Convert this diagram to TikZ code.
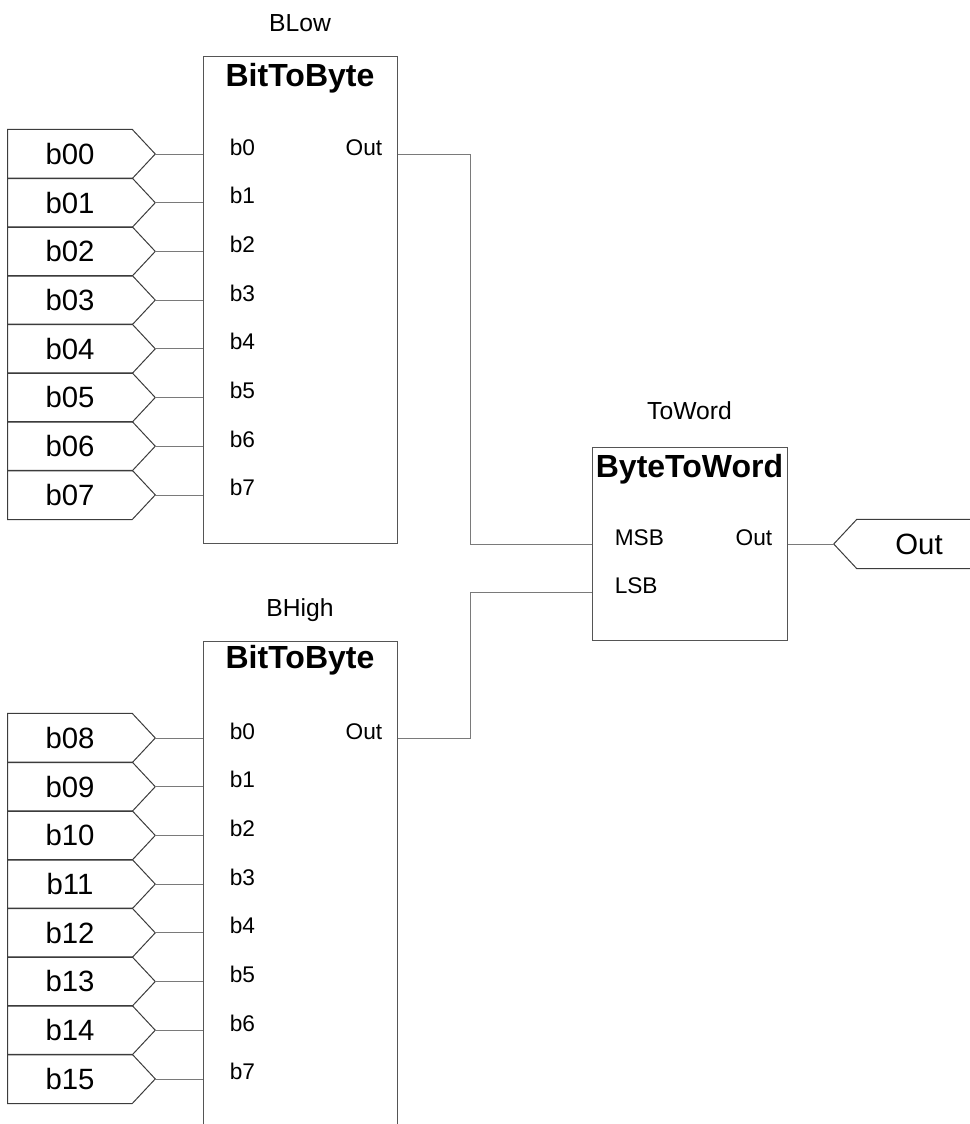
\documentclass[tikz,border=0pt]{standalone}
\usepackage{fontspec}
\setmainfont{Liberation Sans}
\usepackage{tikz}
\usetikzlibrary{positioning,calc}
\definecolor{frame}{HTML}{555555}
\definecolor{wire}{HTML}{7A7A7A}
\definecolor{tagline}{HTML}{3C3C3C}

\begin{document}
\begin{tikzpicture}[x=0.75pt,y=-0.75pt,
 fb/.style={draw=frame,line width=0.75pt,inner sep=0pt},
 bitbox/.style={fb,minimum width=145.5pt,minimum height=364.5pt},
 wordbox/.style={fb,minimum width=146.25pt,minimum height=144.75pt},
 title/.style={anchor=base,font=\bfseries\fontsize{24}{28}\selectfont},
 inst/.style={anchor=base,font=\fontsize{18.5}{22}\selectfont},
 pinl/.style={anchor=base west,inner sep=0pt,font=\fontsize{17}{20}\selectfont},
 pinr/.style={anchor=base east,inner sep=0pt,font=\fontsize{17}{20}\selectfont},
 tag/.style={minimum width=93pt,minimum height=36.5pt,inner sep=0pt,font=\fontsize{22}{26}\selectfont},
 tagedge/.style={draw=tagline,line width=0.75pt,line join=miter},
 wire/.style={draw=wire,line width=0.6pt}]
 \useasboundingbox (0,0) rectangle (970,1124);
 \clip (0,0) rectangle (970,1124);

 % function blocks
 \node[bitbox] (blow) at (300,300) {};
 \node[bitbox] (bhigh) at (300,884) {};
 \node[wordbox] (toword) at (689.5,543.5) {};

 \node[title] at ($(blow.north)+(0,30)$) {BitToByte};
 \node[title] at ($(bhigh.north)+(0,28)$) {BitToByte};
 \node[title] at ($(toword.north)+(0,31)$) {ByteToWord};
 \node[inst] (blowname) at ($(blow.north)+(0,-25)$) {BLow};
 \node[inst] (bhighname) at ($(bhigh.north)+(0,-24)$) {BHigh};
 \node[inst] (towordname) at ($(toword.north)+(0,-27)$) {ToWord};

 % input tags of BLow
 \foreach \tg [count=\i from 0] in {b00,b01,b02,b03,b04,b05,b06,b07} {
  \node[tag] (\tg) at (70,154+48.7*\i) {\tg};
  \draw[tagedge] (\tg.north east) -| (\tg.south west) -- (\tg.south east)
   -- ([xshift=17.25pt]\tg.east) -- cycle;
  \draw[wire] ([xshift=17.25pt]\tg.east) -- (blow.west |- \tg.east);
  \node[pinl] at ($(blow.west |- \tg.east)+(27,1)$) {b\i};
 }

 % input tags of BHigh
 \foreach \tg [count=\i from 0] in {b08,b09,b10,b11,b12,b13,b14,b15} {
  \node[tag] (\tg) at (70,738+48.7*\i) {\tg};
  \draw[tagedge] (\tg.north east) -| (\tg.south west) -- (\tg.south east)
   -- ([xshift=17.25pt]\tg.east) -- cycle;
  \draw[wire] ([xshift=17.25pt]\tg.east) -- (bhigh.west |- \tg.east);
  \node[pinl] at ($(bhigh.west |- \tg.east)+(27,1)$) {b\i};
 }

 % pins of the blocks
 \coordinate (blow-out) at (blow.east |- b00.east);
 \coordinate (bhigh-out) at (bhigh.east |- b08.east);
 \coordinate (toword-msb) at ($(toword.west)+(0,0.5)$);
 \coordinate (toword-lsb) at ($(toword.west)+(0,48.5)$);
 \coordinate (toword-out) at ($(toword.east)+(0,0.5)$);
 \node[pinr] at ($(blow-out)+(-15,1)$) {Out};
 \node[pinr] at ($(bhigh-out)+(-15,1)$) {Out};
 \node[pinl] at ($(toword-msb)+(23,1)$) {MSB};
 \node[pinl] at ($(toword-lsb)+(23,1)$) {LSB};
 \node[pinr] at ($(toword-out)+(-15,1)$) {Out};

 % output tag
 \node[tag] (out) at (919,544) {Out};
 \draw[tagedge] (out.north west) -| (out.south east) -- (out.south west)
  -- ([xshift=-17.25pt]out.west) -- cycle;

 % connections
 \draw[wire] (blow-out) -- ++(73,0) |- (toword-msb);
 \draw[wire] (bhigh-out) -- ++(73,0) |- (toword-lsb);
 \draw[wire] (toword-out) -- ([xshift=-17.25pt]out.west);
\end{tikzpicture}
\end{document}
